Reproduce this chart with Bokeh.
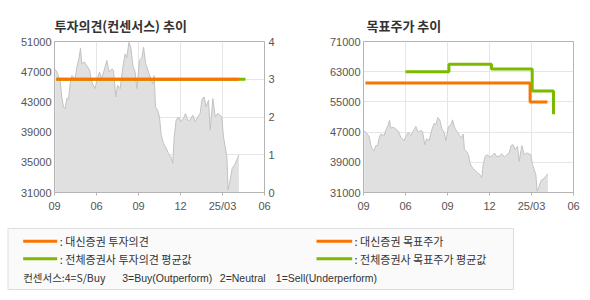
from bokeh.plotting import figure
from bokeh.models import Range1d, LinearAxis, FixedTicker
from bokeh.layouts import column, row
from bokeh.core.properties import value
from bokeh.embed import file_html
from bokeh.resources import INLINE

# ---------------- data ----------------
# x positions are months since the first tick ("09")
month_ticks = [0, 3, 6, 9, 12, 15]
month_labels = ["09", "06", "09", "12", "25/03", "06"]

price_months = [0.05, 0.17, 0.40, 0.52, 0.64, 0.76, 0.88, 1.00, 1.12, 1.24, 1.48, 1.60,
                1.76, 1.86, 1.95, 2.12, 2.31, 2.50, 2.67, 2.90, 3.02, 3.21, 3.38, 3.55,
                3.74, 3.90, 4.10, 4.21, 4.38, 4.50, 4.69, 4.88, 5.05, 5.17, 5.31, 5.45,
                5.60, 5.76, 5.88, 6.07, 6.24, 6.36, 6.52, 6.71, 6.88, 7.02, 7.12, 7.21,
                7.36, 7.50, 7.62, 7.79, 7.98, 8.14, 8.31, 8.45, 8.55, 8.69, 8.86, 9.02,
                9.21, 9.36, 9.50, 9.69, 9.88, 10.05, 10.24, 10.40, 10.55, 10.69, 10.83,
                11.00, 11.12, 11.31, 11.48, 11.64, 11.83, 11.95, 12.07, 12.19, 12.31,
                12.40, 12.55, 12.69, 12.86, 13.02, 13.17]
price = [47300, 46950, 45850, 43650, 42340, 42100, 43440, 43400, 45400, 46500, 46100, 47600,
         48900, 50150, 48050, 48300, 47800, 47200, 45600, 44750, 45850, 46950, 46100, 47200,
         48500, 46950, 47400, 47200, 43650, 45200, 44750, 47600, 49370, 48900, 50870, 50250,
         47800, 46950, 44750, 48500, 48900, 50250, 48050, 46950, 46100, 45400, 46500, 42340,
         41900, 41000, 38600, 37500, 36850, 36190, 35750, 34870, 38380, 40580, 41000, 40360,
         40800, 41460, 40580, 40580, 41240, 40360, 41000, 41460, 43440, 43650, 42340, 43220,
         39260, 43440, 41000, 41460, 41240, 41000, 38380, 37070, 35750, 31350, 32670, 34200,
         34650, 35300, 35970]

# investment opinion (4=S/Buy, 3=Buy, 2=Neutral, 1=Sell)
daishin_op_months = [0.13, 13.19]
daishin_op = [3, 3]
consensus_op_months = [0.13, 13.64]
consensus_op = [3, 3]

# target price
daishin_tp_months = [0.14, 11.90, 13.14]
daishin_tp = [60000, 55000, 55000]
consensus_tp_months = [3.00, 6.10, 9.14, 12.05, 13.57]
consensus_tp = [63000, 65000, 63700, 57900, 51700]

left_ticks = [31000, 35000, 39000, 43000, 47000, 51000]
right_ticks = [31000, 39000, 47000, 55000, 63000, 71000]
op_ticks = [0, 1, 2, 3, 4]

legend_items = [": 대신증권 투자의견", ": 전체증권사 투자의견 평균값",
                ": 대신증권 목표주가", ": 전체증권사 목표주가 평균값"]
consensus_note_ko = "컨센서스:4=S/Buy"
consensus_note = ["3=Buy(Outperform)", "2=Neutral", "1=Sell(Underperform)"]

# ---------------- styles ----------------
ORANGE = "#f97500"
GREEN = "#7cba00"
AREA = "#e0e0e0"
AREA_LINE = "#c2c2c2"
AXIS = "#b4b4b4"
GRID = "#e6e6e6"
TXT = "#555555"
KFONT = "Noto Sans CJK KR"
NFONT = "Liberation Sans"


def style(p, yticks):
    p.outline_line_color = AXIS
    p.xaxis.ticker = FixedTicker(ticks=month_ticks)
    p.xaxis.major_label_overrides = {t: l for t, l in zip(month_ticks, month_labels)}
    p.yaxis.ticker = FixedTicker(ticks=yticks)
    p.yaxis.formatter.use_scientific = False
    for ax in p.xaxis + p.yaxis:
        ax.axis_line_color = AXIS
        ax.major_tick_line_color = AXIS
        ax.minor_tick_line_color = None
        ax.major_label_text_font = NFONT
        ax.major_label_text_font_size = "11px"
        ax.major_label_text_color = TXT
    p.xaxis.major_tick_out = 3
    p.xaxis.major_tick_in = 0
    p.yaxis.major_tick_out = 0
    p.yaxis.major_tick_in = 0
    p.yaxis.major_label_standoff = 3
    p.xaxis.major_label_standoff = 4
    p.xgrid.grid_line_color = GRID
    p.ygrid.grid_line_color = GRID
    p.title.text_font = KFONT
    p.title.text_font_size = "13px"
    p.title.text_font_style = "bold"
    p.title.text_color = "#333333"
    p.title.align = "left"
    p.title.standoff = 14


# ---------------- left chart: opinion ----------------
p1 = figure(width=300, height=220, output_backend="svg", toolbar_location=None,
            x_range=Range1d(0, 15), y_range=Range1d(left_ticks[0], left_ticks[-1]),
            title="투자의견(컨센서스) 추이",
            min_border_left=54, min_border_right=36, min_border_top=41, min_border_bottom=27)
p1.extra_y_ranges = {"op": Range1d(op_ticks[0], op_ticks[-1])}
style(p1, left_ticks)
ax_r = LinearAxis(y_range_name="op", ticker=FixedTicker(ticks=op_ticks))
ax_r.axis_line_color = AXIS
ax_r.major_tick_out = 0
ax_r.major_tick_in = 0
ax_r.minor_tick_line_color = None
ax_r.major_label_text_font = NFONT
ax_r.major_label_text_font_size = "11px"
ax_r.major_label_text_color = TXT
ax_r.major_label_standoff = 4
p1.add_layout(ax_r, "right")
lo, hi = left_ticks[0], left_ticks[-1]
p1.ygrid.ticker = FixedTicker(ticks=[lo + t * (hi - lo) / op_ticks[-1] for t in op_ticks])

p1.varea(x=price_months, y1=[lo] * len(price), y2=price, fill_color=AREA)
p1.line(price_months, price, line_color=AREA_LINE, line_width=1)
p1.line(consensus_op_months, consensus_op, y_range_name="op", line_color=GREEN, line_width=3)
p1.line(daishin_op_months, daishin_op, y_range_name="op", line_color=ORANGE, line_width=3)

# ---------------- right chart: target price ----------------
p2 = figure(width=290, height=220, output_backend="svg", toolbar_location=None,
            x_range=Range1d(0, 15), y_range=Range1d(right_ticks[0], right_ticks[-1]),
            title="목표주가 추이",
            min_border_left=63, min_border_right=17, min_border_top=39, min_border_bottom=28)
style(p2, right_ticks)
p2.title.offset = 3
p2.varea(x=price_months, y1=[right_ticks[0]] * len(price), y2=price, fill_color=AREA)
p2.line(price_months, price, line_color=AREA_LINE, line_width=1)
p2.step(daishin_tp_months, daishin_tp, mode="after", line_color=ORANGE, line_width=3)
p2.step(consensus_tp_months, consensus_tp, mode="after", line_color=GREEN, line_width=3)

# ---------------- legend box ----------------
pl = figure(width=590, height=80, output_backend="svg", toolbar_location=None,
            x_range=Range1d(0, 590), y_range=Range1d(80, 0),
            x_axis_type=None, y_axis_type=None, min_border=0)
pl.outline_line_color = None
pl.xgrid.visible = False
pl.ygrid.visible = False
pl.quad(left=7.5, right=513, top=8, bottom=69, fill_color="#fafafa", line_color="#dddddd")
pl.segment(x0=[22.7, 22.7, 316, 316], x1=[56.7, 56.7, 351.7, 351.7],
           y0=[20.7, 38.3, 20.7, 38.3], y1=[20.7, 38.3, 20.7, 38.3],
           line_color=[ORANGE, GREEN, ORANGE, GREEN], line_width=3)
pl.text(x=[59.3, 59.3, 354, 354], y=[20.7, 38.3, 20.7, 38.3], text=legend_items,
        text_font=value(KFONT), text_font_size="11px", text_color="#333333",
        text_baseline="middle")
pl.text(x=[22.7], y=[57.3], text=[consensus_note_ko],
        text_font=value(KFONT), text_font_size="10.5px", text_color="#333333",
        text_baseline="middle")
pl.text(x=[121.7, 219.3, 275.3], y=[57.3] * 3, text=consensus_note,
        text_font=value(NFONT), text_font_size="10.5px", text_color="#333333",
        text_baseline="middle")

layout = column(row(p1, p2), pl)
open("out.html", "w").write(file_html(layout, INLINE))
